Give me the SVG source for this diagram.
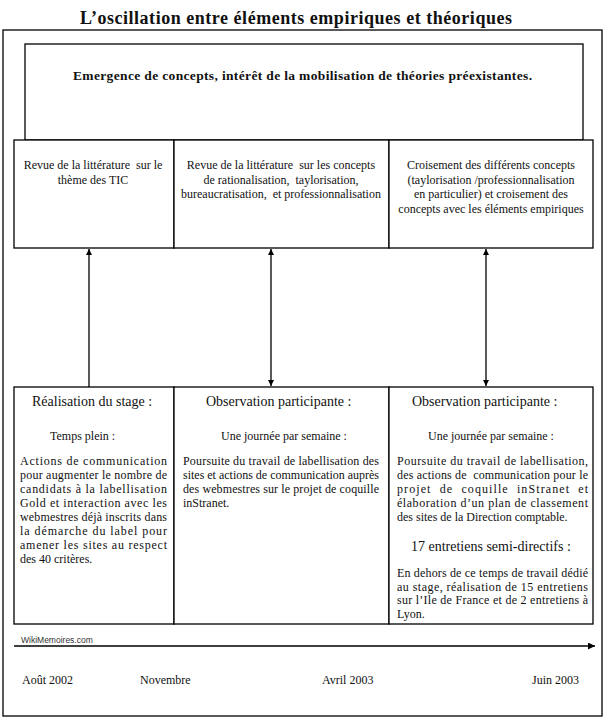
<svg xmlns="http://www.w3.org/2000/svg" width="607" height="718" viewBox="0 0 607 718">
<style>
  .box { fill: #ffffff; stroke: #000000; stroke-width: 1.3; }
  .t { font-family: "Liberation Serif", "Times New Roman", serif; font-size: 12px; fill: #111111; white-space: pre; }
  .c { text-anchor: middle; }
  .h { font-size: 14px; }
  .b { font-weight: bold; }
  .conn { stroke: #000000; stroke-width: 1.3; fill: none; }
  .wm { font-family: "Liberation Sans", Arial, sans-serif; font-size: 8.5px; fill: #333333; }
</style>
<defs>
  <marker id="ah" viewBox="0 0 10 10" refX="10" refY="5" markerWidth="6" markerHeight="7" markerUnits="userSpaceOnUse" orient="auto-start-reverse">
    <path d="M0,0 L10,5 L0,10 Z" fill="#000000"/>
  </marker>
  <marker id="ah2" viewBox="0 0 10 10" refX="10" refY="5" markerWidth="9" markerHeight="7" markerUnits="userSpaceOnUse" orient="auto">
    <path d="M0,0 L10,5 L0,10 Z" fill="#000000"/>
  </marker>
</defs>
<rect width="607" height="718" fill="#ffffff"/>

<g id="title">
  <text class="t b" x="80" y="24" textLength="432" lengthAdjust="spacing" style="font-size:18px">L’oscillation entre éléments empiriques et théoriques</text>
</g>

<g id="frame">
  <rect class="box" x="3" y="30" width="599" height="686" fill="none"/>
</g>

<g id="top-box">
  <rect class="box" x="25" y="44" width="558" height="96"/>
  <text class="t b" x="73" y="80" textLength="459" lengthAdjust="spacing" style="font-size:13.5px">Emergence de concepts, intérêt de la mobilisation de théories préexistantes.</text>
</g>

<g id="theory-1">
  <rect class="box" x="14" y="140" width="160" height="108"/>
  <text class="t c" x="93" y="169">Revue de la littérature  sur le</text>
  <text class="t c" x="93" y="183.5">thème des TIC</text>
</g>
<g id="theory-2">
  <rect class="box" x="174" y="140" width="215" height="108"/>
  <text class="t c" x="281" y="169">Revue de la littérature  sur les concepts</text>
  <text class="t c" x="281" y="183.5">de rationalisation,  taylorisation,</text>
  <text class="t c" x="281" y="198">bureaucratisation,  et professionnalisation</text>
</g>
<g id="theory-3">
  <rect class="box" x="389" y="140" width="204" height="108"/>
  <text class="t c" x="491" y="169">Croisement des différents concepts</text>
  <text class="t c" x="491" y="183.5">(taylorisation /professionnalisation</text>
  <text class="t c" x="491" y="198">en particulier) et croisement des</text>
  <text class="t c" x="491" y="212.5">concepts avec les éléments empiriques</text>
</g>

<g id="empirical-1">
  <rect class="box" x="14" y="387" width="160" height="237"/>
  <text class="t h" x="32" y="406">Réalisation du stage :</text>
  <text class="t" x="50" y="440">Temps plein :</text>
  <text class="t" x="20" y="465" textLength="147" lengthAdjust="spacing">Actions de communication</text>
  <text class="t" x="20" y="479" textLength="147" lengthAdjust="spacing">pour augmenter le nombre de</text>
  <text class="t" x="20" y="493" textLength="147" lengthAdjust="spacing">candidats à la labellisation</text>
  <text class="t" x="20" y="507" textLength="147" lengthAdjust="spacing">Gold et interaction avec les</text>
  <text class="t" x="20" y="521" textLength="147" lengthAdjust="spacing">webmestres déjà inscrits dans</text>
  <text class="t" x="20" y="535" textLength="147" lengthAdjust="spacing">la démarche du label pour</text>
  <text class="t" x="20" y="549" textLength="147" lengthAdjust="spacing">amener les sites au respect</text>
  <text class="t" x="20" y="563">des 40 critères.</text>
</g>
<g id="empirical-2">
  <rect class="box" x="174" y="387" width="215" height="237"/>
  <text class="t h" x="206" y="406">Observation participante :</text>
  <text class="t" x="221" y="440">Une journée par semaine :</text>
  <text class="t" x="183" y="465" textLength="196" lengthAdjust="spacing">Poursuite du travail de labellisation des</text>
  <text class="t" x="183" y="479" textLength="196" lengthAdjust="spacing">sites et actions de communication auprès</text>
  <text class="t" x="183" y="493" textLength="196" lengthAdjust="spacing">des webmestres sur le projet de coquille</text>
  <text class="t" x="183" y="507">inStranet.</text>
</g>
<g id="empirical-3">
  <rect class="box" x="389" y="387" width="204" height="237"/>
  <text class="t h" x="412" y="406">Observation participante :</text>
  <text class="t" x="428" y="440">Une journée par semaine :</text>
  <text class="t" x="397" y="465" textLength="191" lengthAdjust="spacing">Poursuite du travail de labellisation,</text>
  <text class="t" x="397" y="479" textLength="191" lengthAdjust="spacing">des actions de  communication pour le</text>
  <text class="t" x="397" y="493" textLength="191" lengthAdjust="spacing">projet  de  coquille  inStranet  et</text>
  <text class="t" x="397" y="507" textLength="191" lengthAdjust="spacing">élaboration d’un plan de classement</text>
  <text class="t" x="397" y="521">des sites de la Direction comptable.</text>
  <text class="t h" x="411" y="551">17 entretiens semi-directifs :</text>
  <text class="t" x="397" y="577" textLength="191" lengthAdjust="spacing">En dehors de ce temps de travail dédié</text>
  <text class="t" x="397" y="590.7" textLength="191" lengthAdjust="spacing">au stage, réalisation de 15 entretiens</text>
  <text class="t" x="397" y="604.4" textLength="191" lengthAdjust="spacing">sur l’Ile de France et de 2 entretiens à</text>
  <text class="t" x="397" y="618">Lyon.</text>
</g>

<g id="connectors">
  <line class="conn" x1="89" y1="387" x2="89" y2="249" marker-end="url(#ah)"/>
  <line class="conn" x1="271" y1="249" x2="271" y2="386" marker-start="url(#ah)" marker-end="url(#ah)"/>
  <line class="conn" x1="486" y1="249" x2="486" y2="386" marker-start="url(#ah)" marker-end="url(#ah)"/>
</g>

<g id="timeline">
  <line class="conn" x1="14" y1="646" x2="595" y2="646" marker-end="url(#ah2)"/>
  <text class="wm" x="21" y="643">WikiMemoires.com</text>
  <text class="t" x="22" y="684">Août 2002</text>
  <text class="t" x="140" y="684">Novembre</text>
  <text class="t" x="322" y="684">Avril 2003</text>
  <text class="t" x="532" y="684">Juin 2003</text>
</g>
</svg>
